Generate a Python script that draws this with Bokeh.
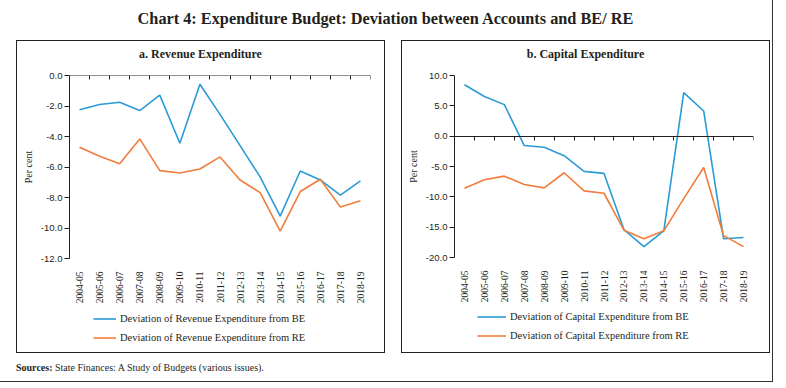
import numpy as np
from bokeh.plotting import figure
from bokeh.models import (LinearAxis, FixedTicker, Range1d, Legend, LegendItem, Div, Spacer,
                          NumeralTickFormatter, CustomJSTickFormatter)
from bokeh.layouts import column, row
from bokeh.embed import file_html
from bokeh.resources import INLINE

# ---------------- data ----------------
years = ["2004-05", "2005-06", "2006-07", "2007-08", "2008-09", "2009-10", "2010-11",
         "2011-12", "2012-13", "2013-14", "2014-15", "2015-16", "2016-17", "2017-18", "2018-19"]

rev_be = [-2.25, -1.90, -1.75, -2.30, -1.29, -4.44, -0.57, -2.55, -4.60, -6.65,
          -9.22, -6.26, -6.85, -7.85, -6.91]
rev_re = [-4.70, -5.30, -5.78, -4.16, -6.24, -6.39, -6.13, -5.34, -6.85, -7.68,
          -10.21, -7.61, -6.80, -8.63, -8.22]

cap_be = [8.47, 6.53, 5.20, -1.55, -1.83, -3.21, -5.81, -6.14, -15.4, -18.2,
          -15.6, 7.19, 4.15, -16.9, -16.7]
cap_re = [-8.58, -7.19, -6.59, -7.97, -8.52, -6.03, -9.02, -9.41, -15.5, -16.9,
          -15.6, -10.3, -5.17, -16.4, -18.2]

rev_ticks = [-12, -10, -8, -6, -4, -2, 0]
cap_ticks = [-20, -15, -10, -5, 0, 5, 10]

BLUE = "#2a9bd6"
ORANGE = "#f07d3c"
DARK = "#231f20"
SERIF = "Liberation Serif"
SANS = "Liberation Sans"

CW = 367          # inner width of a panel box
TH = 26           # panel title height
MH = 239          # main plot height
LH = 46           # legend strip height


def make_panel(title, yticks, be, re, be_label, re_label, mb, glyph_w, leg_loc):
    n = len(years)
    xs = [i + 0.5 for i in range(n)]
    p = figure(width=CW, height=MH, x_range=Range1d(0, n),
               y_range=Range1d(yticks[0], yticks[-1]),
               output_backend="svg", toolbar_location=None, title_location=None,
               x_axis_location=None, y_axis_location=None,
               min_border_left=mb[0], min_border_right=mb[1],
               min_border_top=mb[2], min_border_bottom=mb[3])
    p.grid.visible = False
    p.outline_line_color = None
    p.background_fill_color = "white"
    p.border_fill_color = "white"

    yax = LinearAxis(ticker=FixedTicker(ticks=yticks),
                     formatter=NumeralTickFormatter(format="0.0"),
                     axis_label="Per cent",
                     axis_label_text_font=SERIF, axis_label_text_font_size="10px",
                     axis_label_text_font_style="normal", axis_label_text_color=DARK,
                     axis_label_standoff=4,
                     major_label_text_font=SANS, major_label_text_font_size="9.5px",
                     major_label_text_color=DARK, major_label_standoff=2,
                     major_tick_in=0, major_tick_out=5,
                     minor_tick_line_color=None,
                     axis_line_color=DARK, major_tick_line_color=DARK)
    p.add_layout(yax, "left")

    lab = LinearAxis(ticker=FixedTicker(ticks=xs),
                     major_label_overrides={x: y for x, y in zip(xs, years)},
                     major_label_orientation=np.pi / 2,
                     major_label_text_font=SERIF, major_label_text_font_size="9.5px",
                     major_label_text_color=DARK, major_label_standoff=7,
                     axis_line_color=None, major_tick_line_color=None,
                     minor_tick_line_color=None)
    p.add_layout(lab, "below")

    base = LinearAxis(fixed_location=0, ticker=FixedTicker(ticks=list(range(n + 1))),
                      formatter=CustomJSTickFormatter(code="return ''"),
                      major_tick_in=0, major_tick_out=4,
                      minor_tick_line_color=None,
                      axis_line_color=DARK, major_tick_line_color=DARK)
    p.add_layout(base, "below")

    p.line(xs, be, line_color=BLUE, line_width=1.6)
    p.line(xs, re, line_color=ORANGE, line_width=1.6)

    # legend strip: its own small canvas; the key lines carry the same series but lie
    # outside this strip's ranges, so only the legend keys show
    lg = figure(width=CW, height=LH, x_range=Range1d(0, n), y_range=Range1d(100, 101),
                output_backend="svg", toolbar_location=None, title_location=None,
                x_axis_location=None, y_axis_location=None, min_border=0,
                min_border_left=0, min_border_right=0,
                min_border_top=0, min_border_bottom=0)
    lg.grid.visible = False
    lg.outline_line_color = None
    lg.background_fill_color = "white"
    lg.border_fill_color = "white"
    k1 = lg.line(xs, be, line_color=BLUE, line_width=1.6)
    k2 = lg.line(xs, re, line_color=ORANGE, line_width=1.6)
    legend = Legend(items=[LegendItem(label=be_label, renderers=[k1]),
                           LegendItem(label=re_label, renderers=[k2])],
                    location=leg_loc, orientation="vertical",
                    border_line_color=None, background_fill_alpha=0,
                    label_text_font=SERIF, label_text_font_size="10.5px",
                    label_text_color=DARK,
                    glyph_width=glyph_w, glyph_height=15, label_height=15,
                    spacing=4, padding=0, margin=0, label_standoff=4)
    lg.add_layout(legend, "center")

    head = Div(text=title, width=CW, height=TH, margin=0,
               styles={"text-align": "center", "font-family": SERIF, "font-weight": "bold",
                       "font-size": "12px", "line-height": "26px", "color": DARK,
                       "background": "white"})

    return column(head, p, lg, spacing=0,
                  styles={"border": "1px solid #231f20", "background": "white"})


left = make_panel("a. Revenue Expenditure", rev_ticks, rev_be, rev_re,
                  "Deviation of Revenue Expenditure from BE",
                  "Deviation of Revenue Expenditure from RE", (52, 14, 8, 47), 23, (24, 7))
right = make_panel("b. Capital Expenditure", cap_ticks, cap_be, cap_re,
                   "Deviation of Capital Expenditure from BE",
                   "Deviation of Capital Expenditure from RE", (52, 16, 8, 49), 29, (23, 9))

title_div = Div(text="Chart 4: Expenditure Budget: Deviation between Accounts and BE/ RE",
                width=773, height=27, margin=0,
                styles={"text-align": "center", "font-family": SERIF, "font-weight": "bold",
                        "font-size": "16.3px", "line-height": "27px", "color": DARK})

src_div = Div(text="<b>Sources:</b> State Finances: A Study of Budgets (various issues).",
              width=700, height=28, margin=0,
              styles={"font-family": SERIF, "font-size": "10px", "line-height": "30px",
                      "color": DARK})

panels = row(Spacer(width=17, height=313), left, Spacer(width=16, height=313), right,
             Spacer(width=2, height=313), spacing=0)
src_row = row(Spacer(width=17, height=28), src_div, spacing=0)

root = column(Spacer(width=773, height=6), title_div, Spacer(width=773, height=8),
              panels, src_row, spacing=0,
              styles={"border": "1px solid #333333", "margin-left": "-2px",
                      "margin-top": "-2px", "background": "white"})

open("out.html", "w").write(file_html(root, INLINE))
